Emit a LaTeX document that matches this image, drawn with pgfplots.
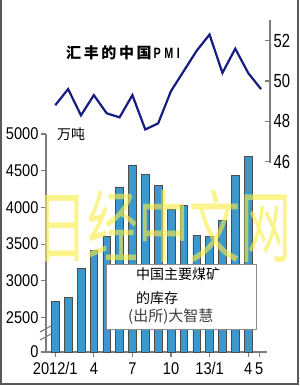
\documentclass[border=0pt]{standalone}
\usepackage{pgfplots}
\pgfplotsset{compat=1.18}
\usepackage{pgfplotstable}
\usepackage{graphicx}
\usepackage{fontspec}
\setmainfont{Liberation Sans}
\newfontfamily\numfont[FakeStretch=0.86]{Liberation Sans}
\newfontfamily\rnumfont[FakeStretch=0.78]{Liberation Sans}
\newfontfamily\pmifont[FakeStretch=0.72]{Liberation Sans}
\newfontfamily\cjk{Noto Sans CJK SC}
\definecolor{barblue}{RGB}{58,152,204}
\definecolor{pminavy}{RGB}{22,28,128}
\definecolor{axgray}{RGB}{125,125,125}
\definecolor{wmyellow}{RGB}{248,238,70}

\pgfplotstableread{
m v
1 2720
2 2770
3 3170
4 3410
5 3600
6 4280
7 4580
8 4450
9 4300
10 3980
11 4030
12 3620
13 3600
14 3820
15 4440
16 4690
}\coal

\pgfplotstableread{
m p
1 48.8
2 49.6
3 48.3
4 49.3
5 48.4
6 48.2
7 49.3
8 47.6
9 47.9
10 49.5
11 50.5
12 51.5
13 52.3
14 50.4
15 51.6
16 50.4
17 49.6
}\pmi

\begin{document}
\begin{tikzpicture}[x=1pt,y=1pt]
\path[use as bounding box] (0,0) rectangle (300,386);
\draw[line width=2pt, color=black!65] (1,386) -- (1,2) -- (298,2) -- (298,386);

\begin{axis}[
  at={(46pt,34pt)}, anchor=south west,
  scale only axis, width=221pt, height=218pt,
  xmin=0.28, xmax=17.46, ymin=2030, ymax=5000,
  axis x line=bottom, axis y line=left,
  axis line style={-, axgray, line width=1.2pt},
  ybar, bar width=7.7pt,
  xtick={1,4,7,10,13,16,16.85},
  xticklabels={2012/1,4,7,10,13/1,4,5},
  ytick={2030,2500,3000,3500,4000,4500,5000},
  yticklabels={0,2500,3000,3500,4000,4500,5000},
  tick align=outside, major tick length=5pt,
  tick style={axgray, line width=1.1pt},
  ticklabel style={font=\numfont\fontsize{17}{17}\selectfont, text=black},
  yticklabel style={xshift=1pt},
  xticklabel style={yshift=-2pt},
]
\addplot[fill=barblue, draw=black!70, line width=0.6pt] table[x=m,y=v]{\coal};
\end{axis}

\begin{axis}[
  at={(46pt,223pt)}, anchor=south west,
  scale only axis, width=224pt, height=143pt,
  xmin=0.28, xmax=17.70, ymin=45.94, ymax=53.02,
  axis x line=none, axis y line=right,
  axis line style={-, axgray, line width=1.2pt},
  ytick={46,48,50,52}, yticklabels={46,48,50,52},
  tick align=inside, major tick length=5pt,
  tick style={axgray, line width=1.1pt},
  ticklabel style={font=\rnumfont\fontsize{19}{19}\selectfont, text=black},
]
\addplot[pminavy, line width=2.2pt, mark=none, line join=miter] table[x=m,y=p]{\pmi};
\end{axis}

% axis break marks
\draw[axgray, line width=1.1pt] (40,54) -- (51,60);
\draw[axgray, line width=1.1pt] (40,46) -- (51,52);

% titles
\node[font=\cjk\bfseries\fontsize{15}{15}\selectfont, anchor=west, inner sep=0pt] at (66,333)
  {汇\hspace{2.6pt}丰\hspace{2.6pt}的\hspace{2.6pt}中\hspace{2.6pt}国\hspace{2pt}{\pmifont\bfseries P\hspace{3.5pt}M\hspace{3.5pt}I}};
\node[font=\cjk\fontsize{14}{14}\selectfont, anchor=west, inner sep=0pt] at (57,252) {万吨};

% source box
\draw[black!45, fill=white, line width=0.8pt] (106.7,57) rectangle (256,121.7);
\node[font=\cjk\fontsize{14}{14}\selectfont, anchor=west, inner sep=0pt] at (136,111.7) {中国主要煤矿};
\node[font=\cjk\fontsize{14}{14}\selectfont, anchor=west, inner sep=0pt] at (136,88) {的库存};
\node[font=\cjk\fontsize{15}{15}\selectfont, text=black!75, anchor=west, inner sep=0pt] at (128,69.3) {(出所)大智慧};

% watermark
\node[font=\cjk\fontsize{51}{51}\selectfont, text=wmyellow, opacity=0.62, anchor=west, inner sep=0pt] at (36,160)
  {\scalebox{1}[1.55]{日经中文网}};
\end{tikzpicture}
\end{document}
